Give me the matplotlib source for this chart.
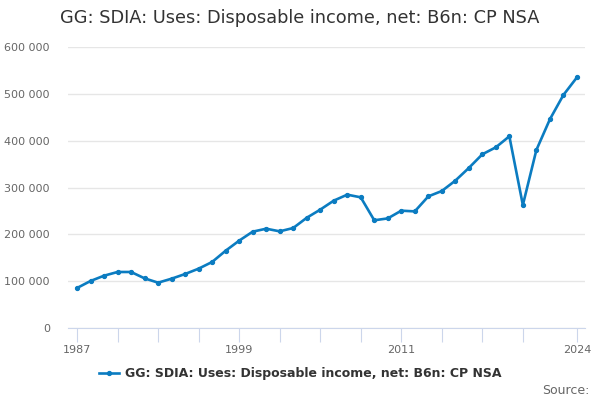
'''
Line chart of general government net disposable income (B6n), 1987-2024
'''
import matplotlib
matplotlib.use('Agg')
import matplotlib.pyplot as plt
from matplotlib.ticker import FuncFormatter

years = list(range(1987, 2025))
values = [
    85400, 100400, 111700, 119600, 119600, 106000, 96800, 105300, 115300, 126700,
    141000, 165000, 186500, 205700, 212000, 206400, 213500, 235300, 252700, 271900,
    284700, 279000, 230000, 234000, 250500, 249000, 281000, 292500, 314600, 341700,
    370900, 385800, 409300, 262600, 380000, 445600, 497500, 535000,
]
series_name = 'GG: SDIA: Uses: Disposable income, net: B6n: CP NSA'
minor_ticks = list(range(1987, 2021, 3)) + [2024]
labelled_years = [1987, 1999, 2011, 2024]

line_color = '#0b7cc1'
grid_color = '#e6e6e6'
axis_color = '#ccd6eb'
text_color = '#666666'

fig = plt.figure(figsize=(6, 4), dpi=100)
ax = fig.add_axes([68 / 600, 72 / 400, 517 / 600, 281 / 400])

ax.plot(years, values, color=line_color, linewidth=1.9, marker='o', markersize=2.8,
        label=series_name)

# Axes limits and ticks
ax.set_xlim(1986.33, 2024.6)
ax.set_ylim(0, 600000)
ax.set_yticks(range(0, 600001, 100000))
ax.yaxis.set_major_formatter(FuncFormatter(lambda v, _: f'{int(v):,}'.replace(',', ' ')))
ax.set_xticks(minor_ticks)
ax.set_xticklabels([str(y) if y in labelled_years else '' for y in minor_ticks])

ax.grid(axis='y', color=grid_color, linewidth=1)
ax.set_axisbelow(True)
for side in ('top', 'right', 'left'):
    ax.spines[side].set_visible(False)
ax.spines['bottom'].set_color(axis_color)
ax.tick_params(axis='y', length=0, pad=13, labelsize=8, labelcolor=text_color)
ax.tick_params(axis='x', length=10, color=axis_color, pad=2, labelsize=8,
               labelcolor=text_color)

# Title, legend and source
fig.text(0.5, 0.955, series_name, ha='center', va='center', fontsize=12.8,
         color='#333333')
leg = fig.legend(loc='center', bbox_to_anchor=(0.5, 0.066), frameon=False,
                 prop={'size': 9, 'weight': 'bold'}, handlelength=1.6,
                 handletextpad=0.5)
for text in leg.get_texts():
    text.set_color('#333333')
fig.text(0.983, 0.025, 'Source:', ha='right', va='center', fontsize=9,
         color=text_color)

fig.savefig('out.png', dpi=100)
